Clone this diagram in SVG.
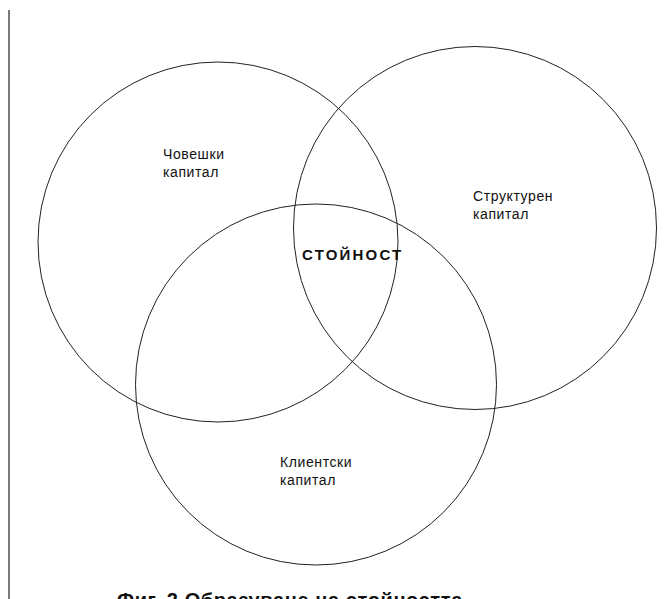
<svg xmlns="http://www.w3.org/2000/svg" width="670" height="599" viewBox="0 0 670 599">
<style>
.c{fill:none;stroke:#222;stroke-width:1}
.t{font-family:"Liberation Sans",Arial,sans-serif;font-size:14px;fill:#111;letter-spacing:0.6px}
.v{font-family:"Liberation Sans",Arial,sans-serif;font-size:15px;fill:#111;letter-spacing:2.2px;font-weight:bold}
.cap{font-family:"Liberation Sans",Arial,sans-serif;font-size:20px;font-weight:bold;fill:#111;letter-spacing:0.6px}
</style>
<rect width="670" height="599" fill="#fff"/>
<line x1="9" y1="10" x2="9" y2="599" stroke="#222" stroke-width="1.2"/>
<g id="human">
<circle class="c" cx="218" cy="242" r="180"/>
<text class="t" x="163" y="159">Човешки</text>
<text class="t" x="163" y="177">капитал</text>
</g>
<g id="structural">
<circle class="c" cx="475" cy="228" r="181.5"/>
<text class="t" x="473" y="201">Структурен</text>
<text class="t" x="473" y="219">капитал</text>
</g>
<g id="client">
<circle class="c" cx="316" cy="384.5" r="180.5"/>
<text class="t" x="280" y="467">Клиентски</text>
<text class="t" x="280" y="485">капитал</text>
</g>
<g id="value">
<text class="v" x="302" y="260">СТОЙНОСТ</text>
</g>
<g id="connectors"/>
<text class="cap" x="117" y="607">Фиг. 2 Образуване на стойността</text>
</svg>
